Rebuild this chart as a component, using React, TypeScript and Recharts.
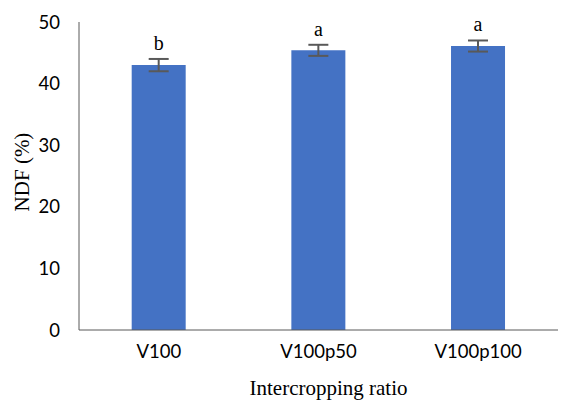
import React from "react";
import { BarChart, Bar, XAxis, YAxis, ErrorBar, LabelList } from "recharts";

const ratios = ["V100", "V100p50", "V100p100"];
const ndf = [43.0, 45.4, 46.1];
const errors = [1.0, 0.9, 0.9];
const letters = ["b", "a", "a"];
const yTicks = [0, 10, 20, 30, 40, 50];

const data = ratios.map((name, i) => ({
  name,
  ndf: ndf[i],
  err: errors[i],
  letter: letters[i],
}));

const serif = "'Liberation Serif', 'Times New Roman', serif";
const sans = "Lato, 'Liberation Sans', sans-serif";

const LetterLabel = (props: any) => {
  const { x, y, width, height, index } = props;
  const d = data[index];
  const pxPerUnit = height / d.ndf;
  const top = y - d.err * pxPerUnit;
  return (
    <text
      x={x + width / 2}
      y={top - 9}
      textAnchor="middle"
      fontFamily={serif}
      fontSize={20}
      fill="#000"
    >
      {d.letter}
    </text>
  );
};

export default function App() {
  return (
    <div style={{ position: "absolute", left: 0, top: 0, background: "#fff" }}>
      <BarChart
        width={562}
        height={400}
        data={data}
        margin={{ top: 22, right: 4, bottom: 0, left: 0 }}
        barCategoryGap="33%"
      >
        <XAxis
          dataKey="name"
          height={70}
          tickLine={false}
          tickSize={0}
          tickMargin={15}
          stroke="#595959"
          tick={{ fill: "#000", fontFamily: sans, fontSize: 18.5 }}
          label={{
            value: "Intercropping ratio",
            position: "insideBottom",
            offset: 5,
            dx: 10,
            fill: "#000",
            fontFamily: serif,
            fontSize: 21,
          }}
        />
        <YAxis
          width={79}
          domain={[0, 50]}
          ticks={yTicks}
          tickLine={false}
          tickSize={0}
          tickMargin={19}
          stroke="#595959"
          tick={{ fill: "#000", fontFamily: sans, fontSize: 18.5 }}
          label={{
            value: "NDF (%)",
            angle: -90,
            position: "insideLeft",
            offset: 22,
            dy: -4,
            fill: "#000",
            fontFamily: serif,
            fontSize: 21,
            style: { textAnchor: "middle" },
          }}
        />
        <Bar dataKey="ndf" fill="#4472C4" isAnimationActive={false}>
          <ErrorBar
            dataKey="err"
            direction="y"
            width={10}
            stroke="#595959"
            strokeWidth={2}
          />
          <LabelList dataKey="letter" content={LetterLabel} />
        </Bar>
      </BarChart>
    </div>
  );
}
